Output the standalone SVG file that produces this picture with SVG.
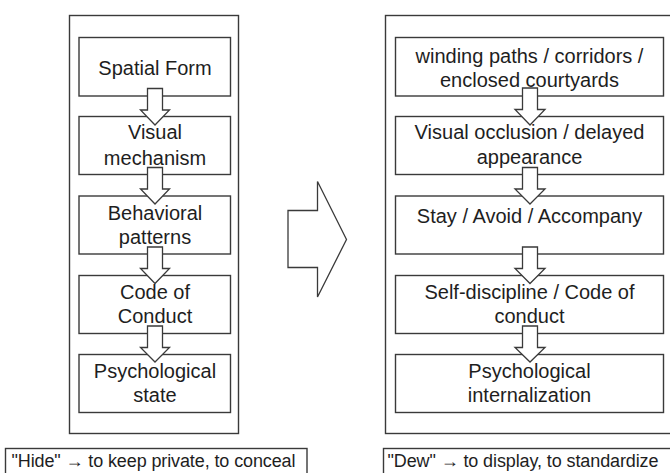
<svg xmlns="http://www.w3.org/2000/svg" width="670" height="473" viewBox="0 0 670 473">
<style>
.frame{fill:none;stroke:#3a3a3a;stroke-width:1.4}
.box{fill:#fff;stroke:#3a3a3a;stroke-width:1.4}
.arr{fill:#fff;stroke:#3a3a3a;stroke-width:1.3;stroke-linejoin:miter}
text{font-family:"Liberation Sans",Arial,sans-serif;fill:#1e1e1e}
.t{font-size:20px;text-anchor:middle}
.c{font-size:18px}
</style>
<rect width="670" height="473" fill="#fff"/>
<g id="left-frame"><rect class="frame" x="69.5" y="15.5" width="169" height="418"/></g>
<g id="right-frame"><rect class="frame" x="385.5" y="15.5" width="300" height="418"/></g>

<g id="l1"><rect class="box" x="79" y="37.5" width="151.5" height="58.5"/><text class="t" x="155" y="74.5">Spatial Form</text></g>
<g id="l2"><rect class="box" x="79" y="116.5" width="151.5" height="58"/><text class="t" x="155" y="139">Visual</text><text class="t" x="155" y="164.5">mechanism</text></g>
<g id="l3"><rect class="box" x="79" y="196" width="151.5" height="58"/><text class="t" x="155" y="220">Behavioral</text><text class="t" x="155" y="244">patterns</text></g>
<g id="l4"><rect class="box" x="79" y="275.5" width="151.5" height="58"/><text class="t" x="155" y="299">Code of</text><text class="t" x="155" y="323">Conduct</text></g>
<g id="l5"><rect class="box" x="79" y="354.5" width="151.5" height="58"/><text class="t" x="155" y="377.5">Psychological</text><text class="t" x="155" y="401.5">state</text></g>

<g id="r1"><rect class="box" x="395.5" y="37.5" width="268" height="58.5"/><text class="t" x="529.5" y="63">winding paths / corridors /</text><text class="t" x="529.5" y="87">enclosed courtyards</text></g>
<g id="r2"><rect class="box" x="395.5" y="116.5" width="268" height="58"/><text class="t" x="529.5" y="139">Visual occlusion / delayed</text><text class="t" x="529.5" y="164">appearance</text></g>
<g id="r3"><rect class="box" x="395.5" y="196" width="268" height="58"/><text class="t" x="529.5" y="222.5">Stay / Avoid / Accompany</text></g>
<g id="r4"><rect class="box" x="395.5" y="275.5" width="268" height="58"/><text class="t" x="529.5" y="298.5">Self-discipline / Code of</text><text class="t" x="529.5" y="322.5">conduct</text></g>
<g id="r5"><rect class="box" x="395.5" y="354.5" width="268" height="58"/><text class="t" x="529.5" y="377.5">Psychological</text><text class="t" x="529.5" y="401.5">internalization</text></g>

<g id="connectors">
<path class="arr" d="M147.5,88.5 H162.5 V110 H169.5 L155,125 L140.5,110 H147.5 Z"/>
<path class="arr" d="M147.5,167.5 H162.5 V189 H169.5 L155,204 L140.5,189 H147.5 Z"/>
<path class="arr" d="M147.5,247 H162.5 V268.5 H169.5 L155,283.5 L140.5,268.5 H147.5 Z"/>
<path class="arr" d="M147.5,326 H162.5 V347.5 H169.5 L155,362 L140.5,347.5 H147.5 Z"/>
<path class="arr" d="M522.5,88 H537.5 V109.5 H545 L530,125 L515,109.5 H522.5 Z"/>
<path class="arr" d="M522.5,167.5 H537.5 V189 H545 L530,204 L515,189 H522.5 Z"/>
<path class="arr" d="M522.5,247 H537.5 V268.5 H545 L530,283.5 L515,268.5 H522.5 Z"/>
<path class="arr" d="M522.5,326 H537.5 V347.5 H545 L530,362 L515,347.5 H522.5 Z"/>
<path class="arr" d="M288,210.5 H317.5 V181.5 L346.5,239.5 L317.5,297 V267.5 H288 Z"/>
</g>

<g id="cap-left"><rect class="box" x="5.5" y="448.5" width="301.5" height="40"/><text class="c" x="11.5" y="467" textLength="284">"Hide" → to keep private, to conceal</text></g>
<g id="cap-right"><rect class="box" x="383.5" y="448.5" width="300" height="40"/><text class="c" x="387.5" y="467" textLength="271">"Dew" → to display, to standardize</text></g>
</svg>
